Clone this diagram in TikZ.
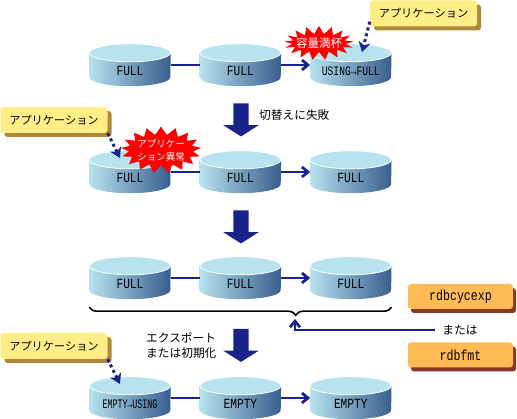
\documentclass[tikz,border=0pt]{standalone}
\usepackage{fontspec}
\setmainfont{Noto Sans CJK JP}
\newfontfamily\drumfont[FakeStretch=0.8]{Liberation Mono}
\newfontfamily\usingfont[FakeStretch=0.74]{Liberation Mono}
\newfontfamily\emptyfont[FakeStretch=0.64]{Liberation Mono}
\usepackage{xcolor}
\usetikzlibrary{shapes.symbols,shapes.arrows,shadows,arrows.meta,positioning,calc,backgrounds,decorations.pathreplacing}
\definecolor{navycolor}{RGB}{24,36,140}
\definecolor{drumlight}{RGB}{182,227,238}
\definecolor{drumdark}{RGB}{56,94,143}
\definecolor{notecolor}{RGB}{255,238,136}
\definecolor{noteshadow}{RGB}{176,136,56}
\definecolor{cmdcolor}{RGB}{255,187,85}
\definecolor{cmdshadow}{RGB}{136,56,36}

\begin{document}
\begin{tikzpicture}[
  x=1pt, y=-1pt,
  drum/.style={rectangle, minimum width=81pt, minimum height=42pt, inner sep=0pt,
               text height=22pt, text depth=1pt,
               font=\drumfont\fontsize{14}{14}\selectfont},
  note/.style={rectangle, fill=notecolor, rounded corners=3pt,
               minimum width=107pt, minimum height=26pt, inner sep=0pt,
               font=\fontsize{11.2}{12}\selectfont,
               general shadow={fill=noteshadow, shadow xshift=4pt, shadow yshift=-4pt}},
  cmd/.style={rectangle, fill=cmdcolor, rounded corners=3pt,
              minimum width=105pt, minimum height=25pt, inner sep=0pt,
              font=\drumfont\fontsize{14.5}{14}\selectfont,
              general shadow={fill=cmdshadow, shadow xshift=3pt, shadow yshift=-4pt}},
  burst/.style={starburst, random starburst=0, fill=red, text=white, inner sep=0pt, align=center,
                starburst points=17, starburst point height=8pt},
  bigarr/.style={single arrow, fill=navycolor, rotate=-90, inner sep=7.5pt,
                 minimum height=33pt, minimum width=35pt, single arrow head extend=10pt,
                 single arrow tip angle=115},
  link/.style={line width=2.8pt, color=navycolor},
  flow/.style={link, -{Straight Barb[length=6pt, width=10pt]}},
  dots/.style={line width=3pt, color=navycolor, dash pattern=on 3pt off 3pt,
               -{Stealth[length=10pt, width=12pt, inset=3pt]}},
  lbl/.style={font=\fontsize{11.7}{15}\selectfont, align=left, inner sep=0pt}
]
\useasboundingbox (0,0) rectangle (517,419);

% Drums, row by row
\node[drum] (a1) at (130,65) {FULL};
\node[drum, right=29pt of a1] (a2) {FULL};
\node[drum, right=29pt of a2, font=\usingfont\fontsize{13}{14}\selectfont] (a3) {USING→FULL};

\node[drum] (b1) at (130,172) {FULL};
\node[drum, right=29pt of b1] (b2) {FULL};
\node[drum, right=29pt of b2] (b3) {FULL};

\node[drum] (c1) at (130,278) {FULL};
\node[drum, right=29pt of c1] (c2) {FULL};
\node[drum, right=29pt of c2] (c3) {FULL};

\node[drum, font=\emptyfont\fontsize{13}{14}\selectfont] (d1) at (130,398) {EMPTY→USING};
\node[drum, right=29pt of d1] (d2) {EMPTY};
\node[drum, right=29pt of d2] (d3) {EMPTY};

% Drum bodies and tops
\begin{scope}[on background layer]
\foreach \n in {a1,a2,a3,b1,b2,b3,c1,c2,c3,d1,d2,d3} {
  \shade[left color=drumlight, right color=drumdark]
    ($(\n.north west)+(0,9)$) -- ($(\n.south west)+(0,-9)$)
    arc [start angle=180, end angle=0, x radius=40.5, y radius=9]
    -- ($(\n.north east)+(0,9)$) -- cycle;
  \draw[white, fill=drumlight, line width=0.8pt] ($(\n.north)+(0,9)$) ellipse [x radius=40.5, y radius=9];
}
\end{scope}

% Links between drums
\foreach \n in {a,b,c,d} {
  \draw[link] (\n1.east) -- (\n2.west);
  \draw[flow] (\n2.east) -- (\n3.west);
}

% Big arrows
\node[bigarr] (s1) at (241,117.5) {};
\node[bigarr] (s2) at (241,224.5) {};
\node[bigarr] (s3) at (241,343) {};

% Labels
\node[lbl, anchor=west] (l1) at (259,115) {切替えに失敗};
\node[lbl, anchor=west] (l2) at (146,345.5) {エクスポート\\または初期化};

% Applications
\node[note] (n1) at (423.5,13.5) {アプリケーション};
\node[note] (n2) at (54,120) {アプリケーション};
\node[note] (n3) at (54,346) {アプリケーション};

\coordinate (t1) at (362,52);
\coordinate (t2) at (120,158);
\coordinate (t3) at (120,384);
\draw[dots] ([yshift=5pt]n1.south west) -- (t1);
\draw[dots] (n2.south east) -- (t2);
\draw[dots] (n3.south east) -- (t3);

% Bursts
\node[burst, inner xsep=-4pt, minimum width=63pt, minimum height=34pt, font=\fontsize{11.5}{13}\selectfont] (e1) at (319,43) {容量満杯};
\node[burst, inner xsep=-1pt, minimum width=65pt, minimum height=38pt, font=\fontsize{9.5}{13}\selectfont] (e2) at (161,150) {アプリケー\\ション異常};

% Brace under third row
\draw[black, line width=1.6pt, decorate, decoration={brace, mirror, amplitude=8pt, aspect=0.683}]
  ([yshift=-8pt]c1.south west) -- ([yshift=-8pt]c3.south east);
\coordinate (b) at (295,319);

% Commands
\node[cmd] (r1) at (460.5,296.5) {rdbcycexp};
\node[cmd] (r2) at (460.5,355) {rdbfmt};
\node[lbl] (or) at (460,330) {または};
\draw[flow] ([xshift=-7pt]or.west) -| (b);
\end{tikzpicture}
\end{document}
